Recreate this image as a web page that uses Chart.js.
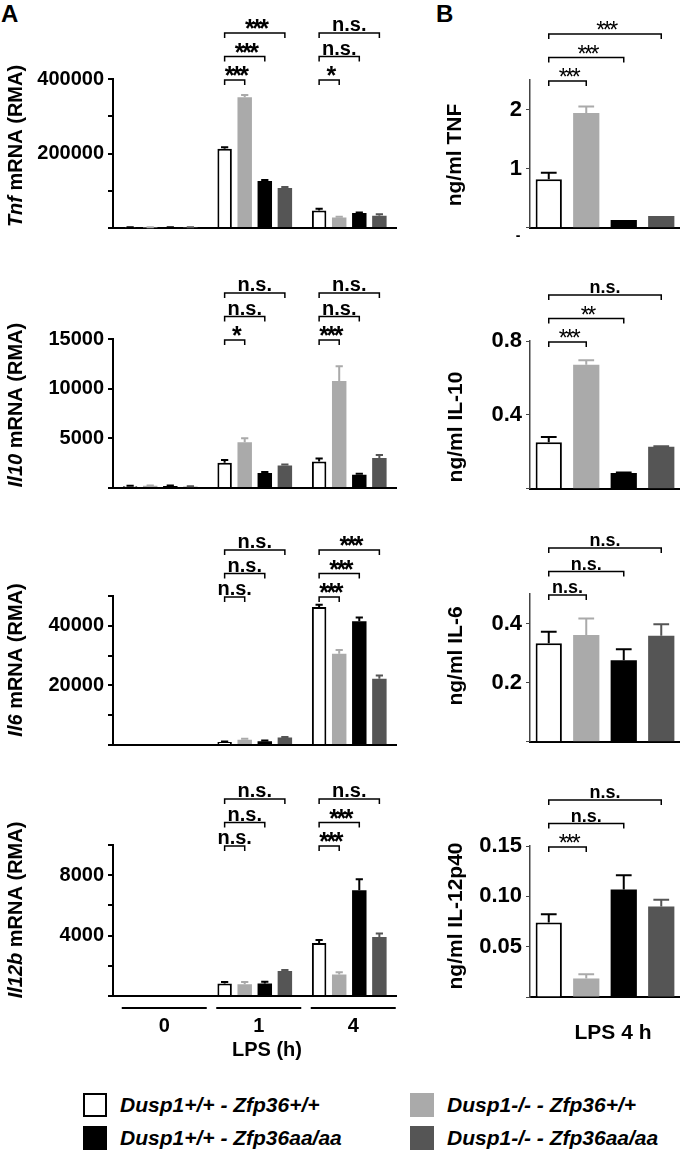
<!DOCTYPE html>
<html>
<head>
<meta charset="utf-8">
<script src="https://cdn.jsdelivr.net/npm/chart.js@4.4.0/dist/chart.umd.min.js"></script>
<style>
  body { margin: 0; background: #fff; }
  #fig { position: relative; width: 680px; height: 1151px; overflow: hidden; font-family: 'Liberation Sans', Arial, sans-serif; }
  canvas { position: absolute; }
  .lbl { position: absolute; font-weight: bold; font-size: 24px; line-height: 24px; }
  .leg { position: absolute; font-weight: bold; font-style: italic; font-size: 21px; line-height: 24px; white-space: nowrap; }
  .leg span { display: inline-block; width: 24px; height: 24px; box-sizing: border-box; vertical-align: top; margin-right: 13px; }
</style>
</head>
<body>
<div id="fig">
  <div class="lbl" style="left:1px;top:2px">A</div>
  <div class="lbl" style="left:436px;top:2px">B</div>

  <canvas id="a1" width="400" height="240" style="left:0;top:4px"></canvas>
  <canvas id="a2" width="400" height="240" style="left:0;top:264px"></canvas>
  <canvas id="a3" width="400" height="240" style="left:0;top:521px"></canvas>
  <canvas id="a4" width="400" height="300" style="left:0;top:770px"></canvas>
  <canvas id="b1" width="280" height="240" style="left:400px;top:5px"></canvas>
  <canvas id="b2" width="280" height="240" style="left:400px;top:266px"></canvas>
  <canvas id="b3" width="280" height="240" style="left:400px;top:519px"></canvas>
  <canvas id="b4" width="280" height="290" style="left:400px;top:771px"></canvas>

  <div class="leg" style="left:83px;top:1093px"><span style="background:#fff;border:2px solid #000"></span>Dusp1+/+ - Zfp36+/+</div>
  <div class="leg" style="left:83px;top:1126px"><span style="background:#000"></span>Dusp1+/+ - Zfp36aa/aa</div>
  <div class="leg" style="left:410px;top:1093px"><span style="background:#aaaaaa"></span>Dusp1-/- - Zfp36+/+</div>
  <div class="leg" style="left:410px;top:1126px"><span style="background:#555555"></span>Dusp1-/- - Zfp36aa/aa</div>
</div>

<script>
const FONT = "'Liberation Sans', Arial, sans-serif";

const timeLabels = ['0', '1', '4'];
const genotypes = ['Dusp1+/+ - Zfp36+/+', 'Dusp1-/- - Zfp36+/+', 'Dusp1+/+ - Zfp36aa/aa', 'Dusp1-/- - Zfp36aa/aa'];
const barColors = ['#ffffff', '#aaaaaa', '#000000', '#555555'];
const errColors = ['#000000', '#aaaaaa', '#000000', '#555555'];

// A: mRNA (RMA). one row per genotype, columns = LPS 0, 1, 4 h
const tnfMrna     = [[1500, 213000, 47000], [1500, 351000, 28500], [1500, 126000, 40000], [1500, 107500, 33000]];
const tnfMrnaErr  = [[300, 4000, 5000], [300, 6000, 1500], [300, 3000, 1500], [300, 2500, 4000]];
const il10Mrna    = [[180, 2530, 2660], [220, 4600, 10760], [200, 1500, 1330], [130, 2260, 3030]];
const il10MrnaErr = [[40, 300, 300], [40, 400, 1500], [40, 100, 100], [40, 100, 300]];
const il6Mrna     = [[0, 1000, 46300], [0, 1800, 30600], [0, 1300, 41500], [0, 2500, 22200]];
const il6MrnaErr  = [[0, 200, 800], [0, 300, 1300], [0, 200, 1300], [0, 200, 1100]];
const il12Mrna    = [[0, 820, 3510], [0, 780, 1420], [0, 820, 7010], [0, 1660, 3910]];
const il12MrnaErr = [[0, 100, 200], [0, 150, 150], [0, 120, 730], [0, 60, 230]];

// significance labels, LPS 1 h and 4 h, white bar vs gray / black / dark gray
const tnfMrnaSig  = [['***', '***', '***'], ['*', 'n.s.', 'n.s.']];
const il10MrnaSig = [['*', 'n.s.', 'n.s.'], ['***', 'n.s.', 'n.s.']];
const il6MrnaSig  = [['n.s.', 'n.s.', 'n.s.'], ['***', '***', '***']];
const il12MrnaSig = [['n.s.', 'n.s.', 'n.s.'], ['***', '***', 'n.s.']];

// B: protein ng/ml, LPS 4 h, one value per genotype
const tnfProt     = [0.82, 1.94, 0.13, 0.20];
const tnfProtErr  = [0.11, 0.11, 0, 0];
const il10Prot    = [0.252, 0.671, 0.085, 0.227];
const il10ProtErr = [0.028, 0.025, 0.003, 0.003];
const il6Prot     = [0.333, 0.361, 0.276, 0.359];
const il6ProtErr  = [0.039, 0.056, 0.037, 0.039];
const il12Prot    = [0.074, 0.0184, 0.1067, 0.090];
const il12ProtErr = [0.0083, 0.0043, 0.0143, 0.0067];

const tnfProtSig  = ['***', '***', '***'];
const il10ProtSig = ['***', '**', 'n.s.'];
const il6ProtSig  = ['n.s.', 'n.s.', 'n.s.'];
const il12ProtSig = ['***', 'n.s.', 'n.s.'];

// tick labels
const tnfMrnaTicks  = [200000, 400000];
const il10MrnaTicks = [5000, 10000, 15000];
const il6MrnaTicks  = [20000, 40000];
const il12MrnaTicks = [4000, 8000];
const tnfProtTicks  = [1, 2];
const il10ProtTicks = [0.4, 0.8];
const il6ProtTicks  = [0.2, 0.4];
const il12ProtTicks = [0.05, 0.10, 0.15];

function drawRotatedTitle(ctx, parts, x, y, size) {
  ctx.save();
  let total = 0;
  parts.forEach(p => {
    ctx.font = (p[1] ? 'italic ' : '') + 'bold ' + size + 'px ' + FONT;
    total += ctx.measureText(p[0]).width;
  });
  ctx.translate(x, y);
  ctx.rotate(-Math.PI / 2);
  ctx.fillStyle = '#000';
  ctx.textBaseline = 'middle';
  ctx.textAlign = 'left';
  let pos = -total / 2;
  parts.forEach(p => {
    ctx.font = (p[1] ? 'italic ' : '') + 'bold ' + size + 'px ' + FONT;
    ctx.fillText(p[0], pos, 0);
    pos += ctx.measureText(p[0]).width;
  });
  ctx.restore();
}

function drawBracket(ctx, x1, x2, lineY, label, isA) {
  ctx.save();
  ctx.strokeStyle = '#000';
  ctx.lineWidth = 1.5;
  ctx.beginPath();
  ctx.moveTo(x1, lineY + 5);
  ctx.lineTo(x1, lineY);
  ctx.lineTo(x2, lineY);
  ctx.lineTo(x2, lineY + 5);
  ctx.stroke();
  ctx.fillStyle = '#000';
  ctx.textAlign = 'center';
  ctx.textBaseline = 'alphabetic';
  const cx = (x1 + x2) / 2;
  if (label.startsWith('*')) {
    ctx.font = (isA ? 'bold 25px ' : '23px ') + FONT;
    ctx.letterSpacing = '-2.5px';
    ctx.fillText(label, cx + 1, lineY + 4);
  } else {
    ctx.font = (isA ? 'bold 20px ' : 'bold 18px ') + FONT;
    ctx.fillText(label, cx, lineY - 2);
  }
  ctx.restore();
}

function makePlugin(cfg) {
  const isA = cfg.kind === 'A';
  return {
    id: 'fig_' + cfg.id,
    afterDatasetsDraw(chart) {
      const ctx = chart.ctx;
      const ys = chart.scales.y;
      chart.data.datasets.forEach((ds, i) => {
        chart.getDatasetMeta(i).data.forEach((bar, j) => {
          const err = isA ? cfg.errors[i][j] : cfg.errors[j];
          if (!err) return;
          const yTop = ys.getPixelForValue(ds.data[j] + err);
          const cap = bar.width * (isA ? 0.5 : 0.6);
          ctx.save();
          ctx.strokeStyle = errColors[isA ? i : j];
          ctx.lineWidth = 2;
          ctx.beginPath();
          ctx.moveTo(bar.x, bar.y);
          ctx.lineTo(bar.x, yTop);
          ctx.moveTo(bar.x - cap / 2, yTop);
          ctx.lineTo(bar.x + cap / 2, yTop);
          ctx.stroke();
          ctx.restore();
        });
      });
    },
    afterDraw(chart) {
      const ctx = chart.ctx;
      const top = chart.chartArea.top;
      const barX = (i, j) => chart.getDatasetMeta(i).data[j].x;
      if (isA) {
        cfg.sig.forEach((labels, gi) => {
          const g = gi + 1;
          labels.forEach((lab, k) => {
            drawBracket(ctx, barX(0, g), barX(k + 1, g), top + 1 - 23.5 * k, lab, true);
          });
        });
      } else {
        cfg.sig.forEach((lab, k) => {
          drawBracket(ctx, barX(0, 0), barX(0, k + 1), top + 1 - 23.5 * k, lab, false);
        });
      }
      drawRotatedTitle(ctx, cfg.title, cfg.titleX - cfg.left, cfg.titleY - cfg.top, isA ? 20 : 21);
      if (cfg.extra) cfg.extra(chart, ctx);
    }
  };
}

function panel(cfg) {
  const isA = cfg.kind === 'A';
  let datasets;
  if (isA) {
    datasets = cfg.values.map((v, i) => ({
      label: genotypes[i], data: v, backgroundColor: barColors[i], borderColor: '#000',
      borderWidth: i === 0 ? 2 : 0, categoryPercentage: 0.85, barPercentage: 0.72
    }));
  } else {
    datasets = [{
      label: cfg.id, data: cfg.values, backgroundColor: barColors, borderColor: '#000',
      borderWidth: [2, 0, 0, 0], categoryPercentage: 1, barPercentage: 0.7
    }];
  }
  return new Chart(document.getElementById(cfg.id), {
    type: 'bar',
    data: { labels: isA ? timeLabels : genotypes, datasets: datasets },
    options: {
      responsive: false,
      animation: false,
      devicePixelRatio: 1,
      layout: { padding: { top: 75, bottom: cfg.padBottom, left: 0, right: isA ? 3.5 : 0 } },
      plugins: { legend: { display: false }, tooltip: { enabled: false } },
      scales: {
        x: {
          grid: { display: false },
          ticks: { display: false },
          border: { display: true, color: '#000', width: 2 },
          afterFit: s => { s.height = 0; }
        },
        y: {
          min: 0,
          max: cfg.max,
          afterFit: s => { s.width = cfg.axisWidth; },
          border: { display: true, color: isA ? '#000' : '#444', width: isA ? 2 : 1.5 },
          grid: { drawOnChartArea: false, drawTicks: true, tickLength: isA ? 5 : 4, color: isA ? '#000' : '#444', lineWidth: isA ? 2 : 1 },
          ticks: {
            stepSize: cfg.step,
            includeBounds: false,
            padding: 4,
            color: '#000',
            font: { family: FONT, size: isA ? 20 : 22, weight: 'bold' },
            callback: v => {
              const t = cfg.ticks.find(t => Math.abs(t - v) < 1e-9);
              return t === undefined ? '' : t.toFixed(cfg.dec);
            }
          }
        }
      }
    },
    plugins: [makePlugin(cfg)]
  });
}

const bottomA = (chart, ctx) => {
  const xs = chart.scales.x;
  ctx.save();
  ctx.strokeStyle = '#000';
  ctx.lineWidth = 2;
  ctx.fillStyle = '#000';
  ctx.textAlign = 'center';
  ctx.textBaseline = 'middle';
  ctx.font = 'bold 20px ' + FONT;
  timeLabels.forEach((lab, g) => {
    const cx = xs.getPixelForValue(g) + 4;
    ctx.beginPath();
    ctx.moveTo(cx - 42.5, 1008 - 770);
    ctx.lineTo(cx + 42.5, 1008 - 770);
    ctx.stroke();
    ctx.fillText(lab, cx, 1026 - 770);
  });
  ctx.fillText('LPS (h)', 267, 1050 - 770);
  ctx.restore();
};

const bottomB = (chart, ctx) => {
  ctx.save();
  ctx.fillStyle = '#000';
  ctx.textAlign = 'center';
  ctx.textBaseline = 'middle';
  ctx.font = 'bold 21px ' + FONT;
  ctx.fillText('LPS 4 h', 613 - 400, 1033 - 771);
  ctx.restore();
};

const dashB = (chart, ctx) => {
  ctx.save();
  ctx.fillStyle = '#000';
  ctx.textAlign = 'center';
  ctx.textBaseline = 'middle';
  ctx.font = 'bold 14px ' + FONT;
  ctx.fillText('-', chart.chartArea.left - 12, chart.chartArea.bottom + 8);
  ctx.restore();
};

panel({ id: 'a1', kind: 'A', left: 0, top: 4, padBottom: 15, axisWidth: 113, max: 400000, step: 100000,
  ticks: tnfMrnaTicks, dec: 0, values: tnfMrna, errors: tnfMrnaErr, sig: tnfMrnaSig,
  title: [['Tnf', true], [' mRNA (RMA)', false]], titleX: 16, titleY: 146 });
panel({ id: 'a2', kind: 'A', left: 0, top: 264, padBottom: 15, axisWidth: 113, max: 15000, step: 5000,
  ticks: il10MrnaTicks, dec: 0, values: il10Mrna, errors: il10MrnaErr, sig: il10MrnaSig,
  title: [['Il10', true], [' mRNA (RMA)', false]], titleX: 16, titleY: 405 });
panel({ id: 'a3', kind: 'A', left: 0, top: 521, padBottom: 15, axisWidth: 113, max: 50000, step: 10000,
  ticks: il6MrnaTicks, dec: 0, values: il6Mrna, errors: il6MrnaErr, sig: il6MrnaSig,
  title: [['Il6', true], [' mRNA (RMA)', false]], titleX: 16, titleY: 660 });
panel({ id: 'a4', kind: 'A', left: 0, top: 770, padBottom: 74, axisWidth: 113, max: 10000, step: 2000,
  ticks: il12MrnaTicks, dec: 0, values: il12Mrna, errors: il12MrnaErr, sig: il12MrnaSig,
  title: [['Il12b', true], [' mRNA (RMA)', false]], titleX: 16, titleY: 910, extra: bottomA });

panel({ id: 'b1', kind: 'B', left: 400, top: 5, padBottom: 15, axisWidth: 130, max: 2.5, step: 1,
  ticks: tnfProtTicks, dec: 0, values: tnfProt, errors: tnfProtErr, sig: tnfProtSig,
  title: [['ng/ml TNF', false]], titleX: 455, titleY: 155, extra: dashB });
panel({ id: 'b2', kind: 'B', left: 400, top: 266, padBottom: 14, axisWidth: 130, max: 0.8, step: 0.4,
  ticks: il10ProtTicks, dec: 1, values: il10Prot, errors: il10ProtErr, sig: il10ProtSig,
  title: [['ng/ml IL-10', false]], titleX: 456, titleY: 427 });
panel({ id: 'b3', kind: 'B', left: 400, top: 519, padBottom: 15, axisWidth: 130, max: 0.5, step: 0.2,
  ticks: il6ProtTicks, dec: 1, values: il6Prot, errors: il6ProtErr, sig: il6ProtSig,
  title: [['ng/ml IL-6', false]], titleX: 456, titleY: 656 });
panel({ id: 'b4', kind: 'B', left: 400, top: 771, padBottom: 64, axisWidth: 130, max: 0.15, step: 0.05,
  ticks: il12ProtTicks, dec: 2, values: il12Prot, errors: il12ProtErr, sig: il12ProtSig,
  title: [['ng/ml IL-12p40', false]], titleX: 456, titleY: 916, extra: bottomB });
</script>
</body>
</html>
